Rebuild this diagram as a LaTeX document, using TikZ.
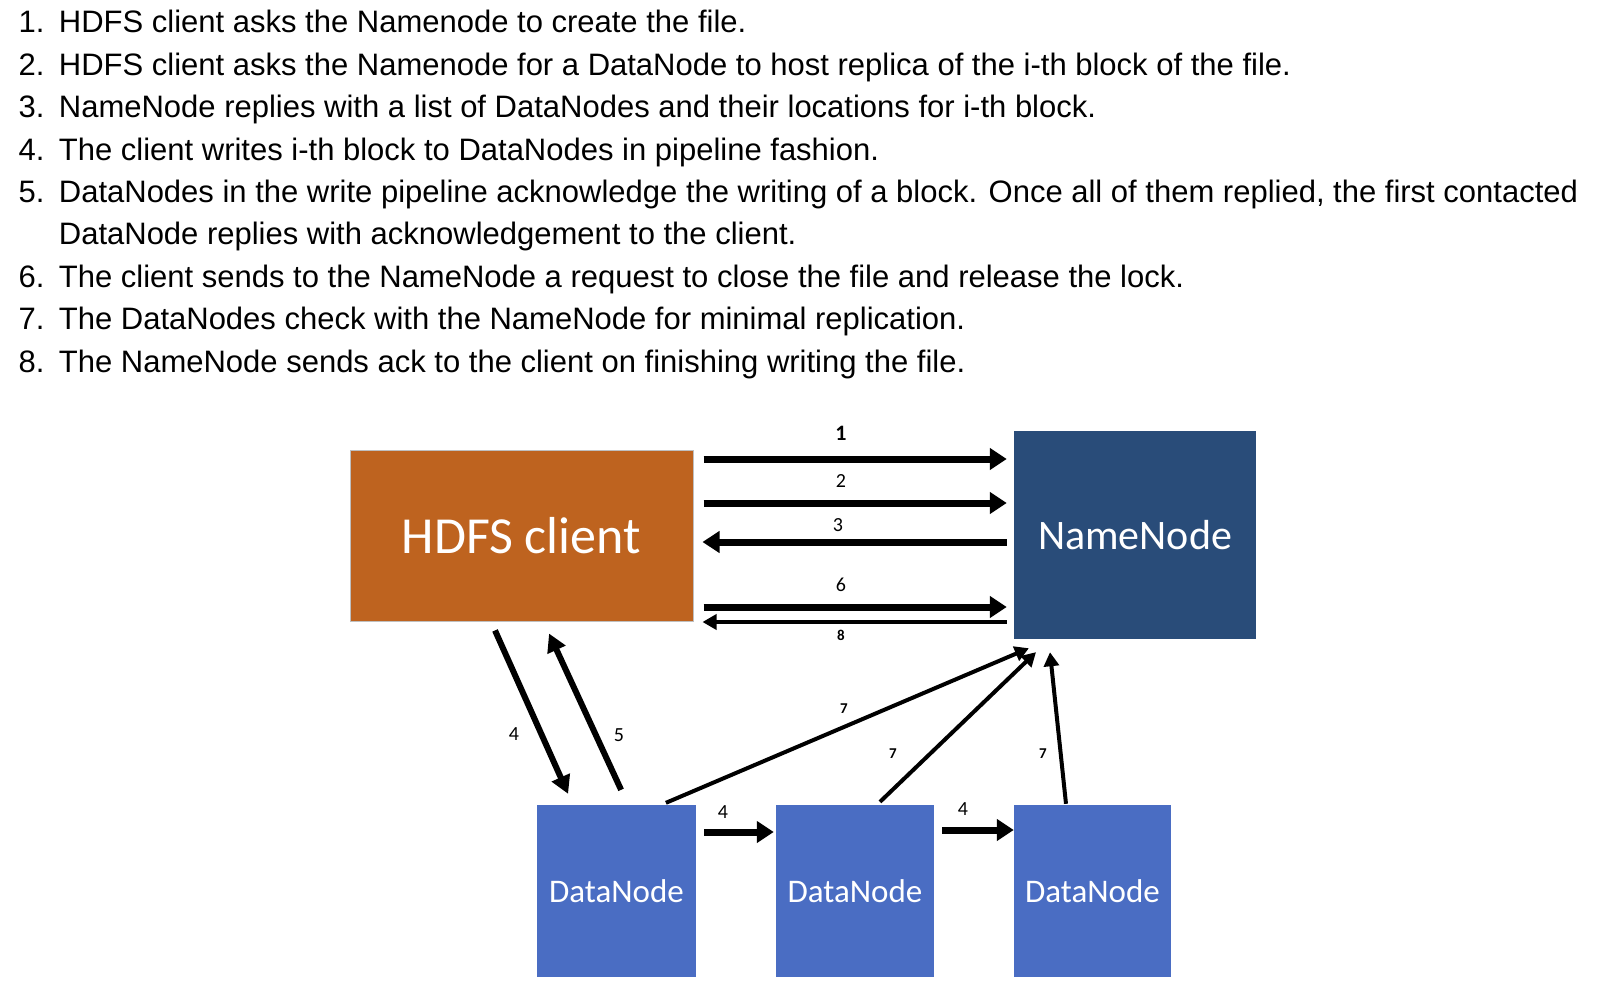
\documentclass[tikz,border=0pt]{standalone}
\usepackage{fontspec}
\setmainfont{Liberation Sans}
\newfontfamily\boxfont{Carlito}
\usetikzlibrary{arrows.meta}
\definecolor{clientc}{RGB}{190,99,31}
\definecolor{namec}{RGB}{41,76,121}
\definecolor{datac}{RGB}{74,109,195}
\tikzset{
  listtxt/.style={anchor=base west, inner sep=0pt, font=\fontsize{31}{36}\selectfont},
  bigbox/.style={inner sep=0pt, text=white},
  bigarrow/.style={line width=7pt, -{Triangle[length=17pt,width=21pt]}},
  midarrow/.style={line width=6pt, -{Triangle[length=18pt,width=19pt]}},
  thinarrow/.style={line width=4pt, -{Triangle[length=14pt,width=15pt]}},
  lab/.style={inner sep=0pt, font=\boxfont\fontsize{20}{22}\selectfont},
  slab/.style={inner sep=0pt, font=\boxfont\bfseries\fontsize{15}{18}\selectfont},
}
\begin{document}
\begin{tikzpicture}[x=1pt,y=-1pt]
\useasboundingbox (0,0) rectangle (1614,1000);
% list
\node[listtxt] (n1) at (18.5,33) {1.};
\node[listtxt] (t1) at (58.7,33) {HDFS client asks the Namenode to create the file.};
\node[listtxt] (n2) at (18.5,75.4) {2.};
\node[listtxt] (t2) at (58.7,75.4) {HDFS client asks the Namenode for a DataNode to host replica of the i-th block of the file.};
\node[listtxt] (n3) at (18.5,117.8) {3.};
\node[listtxt] (t3) at (58.7,117.8) {NameNode replies with a list of DataNodes and their locations for i-th block.};
\node[listtxt] (n4) at (18.5,160.2) {4.};
\node[listtxt] (t4) at (58.7,160.2) {The client writes i-th block to DataNodes in pipeline fashion.};
\node[listtxt] (n5) at (18.5,202.6) {5.};
\node[listtxt] (t5) at (58.7,202.6) {DataNodes in the write pipeline acknowledge the writing of a block. Once all of them replied, the first contacted};
\node[listtxt] (t5b) at (58.7,245) {DataNode replies with acknowledgement to the client.};
\node[listtxt] (n6) at (18.5,287.4) {6.};
\node[listtxt] (t6) at (58.7,287.4) {The client sends to the NameNode a request to close the file and release the lock.};
\node[listtxt] (n7) at (18.5,329.8) {7.};
\node[listtxt] (t7) at (58.7,329.8) {The DataNodes check with the NameNode for minimal replication.};
\node[listtxt] (n8) at (18.5,372.2) {8.};
\node[listtxt] (t8) at (58.7,372.2) {The NameNode sends ack to the client on finishing writing the file.};
% boxes
\node[bigbox, fill=clientc, draw=black!25, line width=1pt, minimum width=343pt, minimum height=171pt,
      font=\boxfont\fontsize{52}{60}\selectfont] (client) at (521.5,535.5) {HDFS client};
\node[bigbox, fill=namec, minimum width=242pt, minimum height=208pt,
      font=\boxfont\fontsize{42}{50}\selectfont] (nn) at (1135,535) {NameNode};
\node[bigbox, fill=datac, minimum width=159pt, minimum height=172pt,
      font=\boxfont\fontsize{33}{40}\selectfont] (dn1) at (616.5,891) {DataNode};
\node[bigbox, fill=datac, minimum width=158pt, minimum height=172pt,
      font=\boxfont\fontsize{33}{40}\selectfont] (dn2) at (855,891) {DataNode};
\node[bigbox, fill=datac, minimum width=157pt, minimum height=172pt,
      font=\boxfont\fontsize{33}{40}\selectfont] (dn3) at (1092.5,891) {DataNode};
% horizontal arrows
\draw[bigarrow, shorten <=10pt, shorten >=7pt] (client.east |- 0,459) -- (nn.west |- 0,459);
\draw[bigarrow, shorten <=10pt, shorten >=7pt] (client.east |- 0,503) -- (nn.west |- 0,503);
\draw[bigarrow, shorten <=7pt, shorten >=9pt] (nn.west |- 0,542) -- (client.east |- 0,542);
\draw[bigarrow, shorten <=10pt, shorten >=7pt] (client.east |- 0,607) -- (nn.west |- 0,607);
\draw[thinarrow, shorten <=7pt, shorten >=9pt] (nn.west |- 0,622) -- (client.east |- 0,622);
% diagonal arrows
\draw[midarrow, shorten <=9.8pt, shorten >=12pt] (client.south -| 491,0) -- (dn1.north -| 573,0);
\draw[midarrow, shorten <=16.5pt, shorten >=13.2pt] (dn1.north -| 628,0) -- (client.south -| 543.5,0);
\draw[thinarrow, shorten <=5pt, shorten >=23pt] (dn1.north -| 661.3,0) -- (nn.south -| 1050,0);
\draw[thinarrow, shorten <=4.3pt, shorten >=18.7pt] (dn2.north -| 876.9,0) -- (nn.south -| 1049.5,0);
\draw[thinarrow, shorten <=1pt, shorten >=13.1pt] (dn3.north -| 1066.1,0) -- (nn.south -| 1048.6,0);
% pipeline arrows
\draw[bigarrow, shorten <=8pt, shorten >=2pt] (dn1.east |- 0,832) -- (dn2.west |- 0,832);
\draw[bigarrow, shorten <=8pt, shorten >=0pt] (dn2.east |- 0,830) -- (dn3.west |- 0,830);
% labels
\node[lab, font=\boxfont\bfseries\fontsize{22}{26}\selectfont] (l1) at (841,433) {1};
\node[lab] (l2) at (841,481) {2};
\node[lab] (l3) at (838,525) {3};
\node[lab] (l6) at (841,585) {6};
\node[slab] (l8) at (841,635) {8};
\node[lab] (l4a) at (514,734) {4};
\node[lab] (l5) at (619,735) {5};
\node[slab] (l7a) at (844,709) {7};
\node[slab] (l7b) at (893,754) {7};
\node[slab] (l7c) at (1043,754) {7};
\node[lab] (l4b) at (723,812) {4};
\node[lab] (l4c) at (963,809) {4};
\end{tikzpicture}
\end{document}
